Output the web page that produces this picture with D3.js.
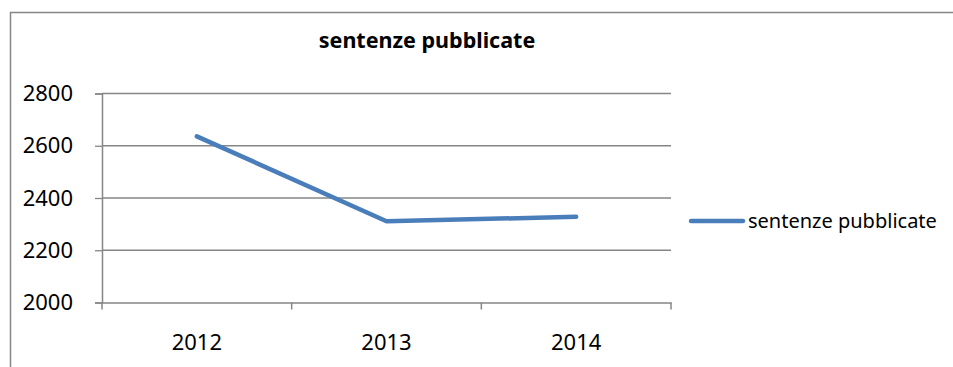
<!DOCTYPE html>
<html>
<head>
<meta charset="utf-8">
<script src="https://cdn.jsdelivr.net/npm/d3@7"></script>
<style>
  html, body { margin: 0; padding: 0; background: #fff; }
  svg { display: block; }
</style>
</head>
<body>
<svg id="chart" width="953" height="367"></svg>
<script>
// Published rulings per year
const years = ["2012", "2013", "2014"];
const sentenze = [2636, 2311, 2328];
const yTicks = [2000, 2200, 2400, 2600, 2800];
const seriesName = "sentenze pubblicate";
const chartTitle = "sentenze pubblicate";

const svg = d3.select("#chart");
const W = 953, H = 367;
const font = "'Noto Sans', sans-serif";
const gray = "#868686";
const blue = "#4a7ebb";

// Chart frame
svg.append("rect")
  .attr("x", 10.5).attr("y", 12.5)
  .attr("width", W + 20).attr("height", H + 20)
  .attr("fill", "#fff").attr("stroke", gray).attr("stroke-width", 1.5);

const plot = { left: 102, right: 671, top: 93.5, bottom: 302.5 };

const x = d3.scaleBand().domain(years).range([plot.left, plot.right]);
const y = d3.scaleLinear().domain([2000, 2800]).range([plot.bottom, plot.top]);

// Horizontal gridlines
svg.append("g")
  .selectAll("line")
  .data(yTicks.filter(d => d !== 2000))
  .join("line")
  .attr("x1", plot.left).attr("x2", plot.right)
  .attr("y1", d => y(d)).attr("y2", d => y(d))
  .attr("stroke", gray).attr("stroke-width", 1.3);

// Y axis
const yAxis = svg.append("g")
  .attr("transform", `translate(${plot.left},0)`)
  .call(d3.axisLeft(y).tickValues(yTicks).tickSize(7).tickPadding(22).tickFormat(d3.format("d")));
yAxis.select(".domain").attr("stroke", gray).attr("stroke-width", 1.5);
yAxis.selectAll(".tick line").attr("stroke", gray).attr("stroke-width", 1.3);
yAxis.selectAll(".tick text")
  .attr("font-family", font).attr("font-size", 22).attr("fill", "#000");

// X axis with ticks on category boundaries
const xAxis = svg.append("g")
  .attr("transform", `translate(0,${plot.bottom})`)
  .call(d3.axisBottom(x).tickSize(0).tickPadding(32));
xAxis.select(".domain").attr("stroke", gray).attr("stroke-width", 1.5);
xAxis.selectAll(".tick text")
  .attr("font-family", font).attr("font-size", 22).attr("fill", "#000");
const bounds = years.map(d => x(d)).concat([x(years[years.length - 1]) + x.bandwidth()]);
xAxis.append("g").selectAll("line")
  .data(bounds)
  .join("line")
  .attr("x1", d => d).attr("x2", d => d)
  .attr("y1", 0).attr("y2", 7)
  .attr("stroke", gray).attr("stroke-width", 1.5);

// Series line
const line = d3.line()
  .x((d, i) => x(years[i]) + x.bandwidth() / 2)
  .y(d => y(d));
svg.append("path")
  .datum(sentenze)
  .attr("d", line)
  .attr("fill", "none")
  .attr("stroke", blue)
  .attr("stroke-width", 4.5)
  .attr("stroke-linecap", "round")
  .attr("stroke-linejoin", "round");

// Title
svg.append("text")
  .attr("x", 427).attr("y", 48)
  .attr("text-anchor", "middle")
  .attr("font-family", font).attr("font-weight", "bold").attr("font-size", 21.5)
  .attr("fill", "#000")
  .text(chartTitle);

// Legend
const legend = svg.append("g").attr("transform", "translate(691,221)");
legend.append("line")
  .attr("x1", 0).attr("x2", 52).attr("y1", 0).attr("y2", 0)
  .attr("stroke", blue).attr("stroke-width", 4.5).attr("stroke-linecap", "round");
legend.append("text")
  .attr("x", 57).attr("y", 7)
  .attr("font-family", font).attr("font-size", 20).attr("fill", "#000")
  .text(seriesName);
</script>
</body>
</html>
